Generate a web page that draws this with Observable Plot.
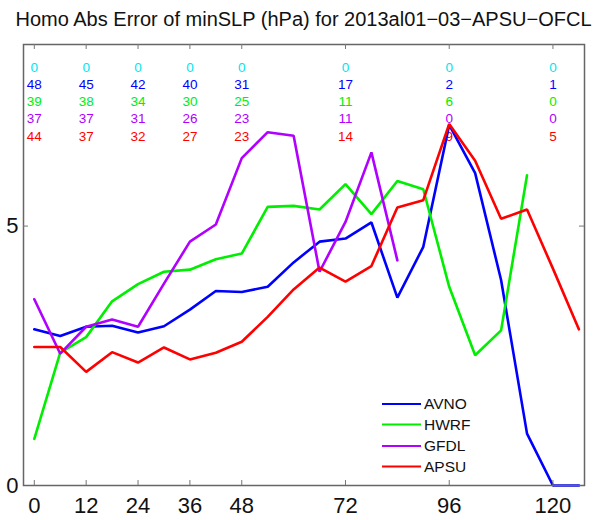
<!DOCTYPE html>
<html><head><meta charset="utf-8">
<script src="https://cdn.jsdelivr.net/npm/d3@7"></script>
<script src="https://cdn.jsdelivr.net/npm/@observablehq/plot@0.6"></script>
<style>
body{margin:0;background:#fff;font-family:"Liberation Sans",Arial,sans-serif;}
#wrap{position:relative;width:597px;height:520px;overflow:hidden;}
#title{position:absolute;left:0;width:607px;top:0;height:38px;line-height:38px;text-align:center;font-size:20px;color:#111;white-space:nowrap;}
#chart{position:absolute;top:32px;left:0;}
</style></head><body>
<div id="wrap"><div id="title">Homo Abs Error of minSLP (hPa) for 2013al01−03−APSU−OFCL</div><div id="chart"></div></div>
<script>
// forecast hours
const hours = [0,6,12,18,24,30,36,42,48,54,60,66,72,78,84,90,96,102,108,114,120,126];
// mean absolute minSLP error (hPa) per model
const avno = [3.01,2.88,3.06,3.08,2.95,3.07,3.39,3.75,3.73,3.83,4.30,4.70,4.76,5.07,3.62,4.60,6.95,6.02,3.96,1.00,0,0];
const hwrf = [0.90,2.56,2.86,3.55,3.88,4.12,4.16,4.36,4.47,5.37,5.39,5.32,5.81,5.23,5.87,5.71,3.83,2.51,2.99,5.98,null,null];
const gfdl = [3.59,2.54,3.06,3.20,3.06,3.89,4.70,5.03,6.31,6.81,6.74,4.12,5.08,6.42,4.34,null,null,null,null,null,null,null];
const apsu = [2.67,2.67,2.19,2.57,2.37,2.66,2.43,2.56,2.77,3.25,3.78,4.20,3.93,4.23,5.36,5.50,6.97,6.26,5.14,5.32,4.18,3.01];
const seriesNames = ["AVNO","HWRF","GFDL","APSU"];
const seriesColors = ["#0000ff","#00ee00","#b000ff","#ff0000"];
// homogeneous sample counts
const countHours = [0,12,24,36,48,72,96,120];
const ofclCounts = [0,0,0,0,0,0,0,0];
const avnoCounts = [48,45,42,40,31,17,2,1];
const hwrfCounts = [39,38,34,30,25,11,6,0];
const gfdlCounts = [37,37,31,26,23,11,0,0];
const apsuCounts = [44,37,32,27,23,14,9,5];
const countColors = ["#00e5ee","#0000ff","#00ee00","#b000ff","#ff0000"];
// axis ticks
const xTicks = [0,12,24,36,48,72,96,120];
const yTicks = [0,5];

const seriesValues = [avno,hwrf,gfdl,apsu];
const rows = [];
seriesNames.forEach((name,s)=>{
  hours.forEach((h,i)=>{
    const v = seriesValues[s][i];
    if (v !== null && v !== undefined) rows.push({series:name, hour:h, value:v});
  });
});

const W = 597, H = 488, mT = 12, mB = 35, mL = 23, mR = 13;
const frameH = H - mT - mB, frameW = W - mL - mR;
const countArrays = [ofclCounts,avnoCounts,hwrfCounts,gfdlCounts,apsuCounts];
const rowOffsets = [23,40,57,74.5,92];

const countMarks = countArrays.map((arr,r)=>Plot.text(countHours,{
  x: d=>d, text: (d,i)=>String(arr[i]), frameAnchor:"top", dy: rowOffsets[r],
  fill: countColors[r], fontSize: 13.5, lineAnchor:"middle"
}));

const chart = Plot.plot({
  width: W, height: H,
  marginTop: mT, marginBottom: mB, marginLeft: mL, marginRight: mR,
  style: {fontFamily: "'Liberation Sans', Arial, sans-serif", background:"#fff", overflow:"visible"},
  x: {domain: [-2.5, 127.3]},
  y: {domain: [0, 8.5]},
  color: {domain: seriesNames, range: seriesColors},
  marks: [
    ...countMarks,
    Plot.line(rows,{x:"hour", y:"value", z:"series", stroke:"series", strokeWidth:2.6, strokeLinejoin:"miter"}),
    Plot.frame({stroke:"#666", strokeWidth:1.5}),
    Plot.tickX(xTicks,{x:d=>d, insetTop: frameH-5, stroke:"#777"}),
    Plot.tickX(xTicks,{x:d=>d, insetBottom: frameH-5, stroke:"#777"}),
    Plot.tickY([5],{y:d=>d, insetRight: frameW-5, stroke:"#777"}),
    Plot.tickY([5],{y:d=>d, insetLeft: frameW-5, stroke:"#777"}),
    Plot.axisX(xTicks,{anchor:"bottom", tickSize:0, tickPadding:12, fontSize:22, label:null, fill:"#111", tickFormat:d=>String(d)}),
    Plot.axisY(yTicks,{anchor:"left", tickSize:0, tickPadding:5, fontSize:22, label:null, fill:"#111", tickFormat:d=>String(d)})
  ]
});
document.getElementById("chart").appendChild(chart);

// legend inside plot, bottom right
const svg = d3.select(chart);
const lg = svg.append("g").attr("text-anchor","start");
const legendY = [372, 392.5, 414, 434.5];
seriesNames.forEach((name,i)=>{
  lg.append("line").attr("x1",382).attr("x2",421).attr("y1",legendY[i]).attr("y2",legendY[i])
    .attr("stroke",seriesColors[i]).attr("stroke-width",2.2);
  lg.append("text").attr("x",424).attr("y",legendY[i]).attr("dy","0.35em")
    .attr("text-anchor","start").attr("font-size",15.5).attr("fill","#111").text(name);
});
</script>
</body></html>
